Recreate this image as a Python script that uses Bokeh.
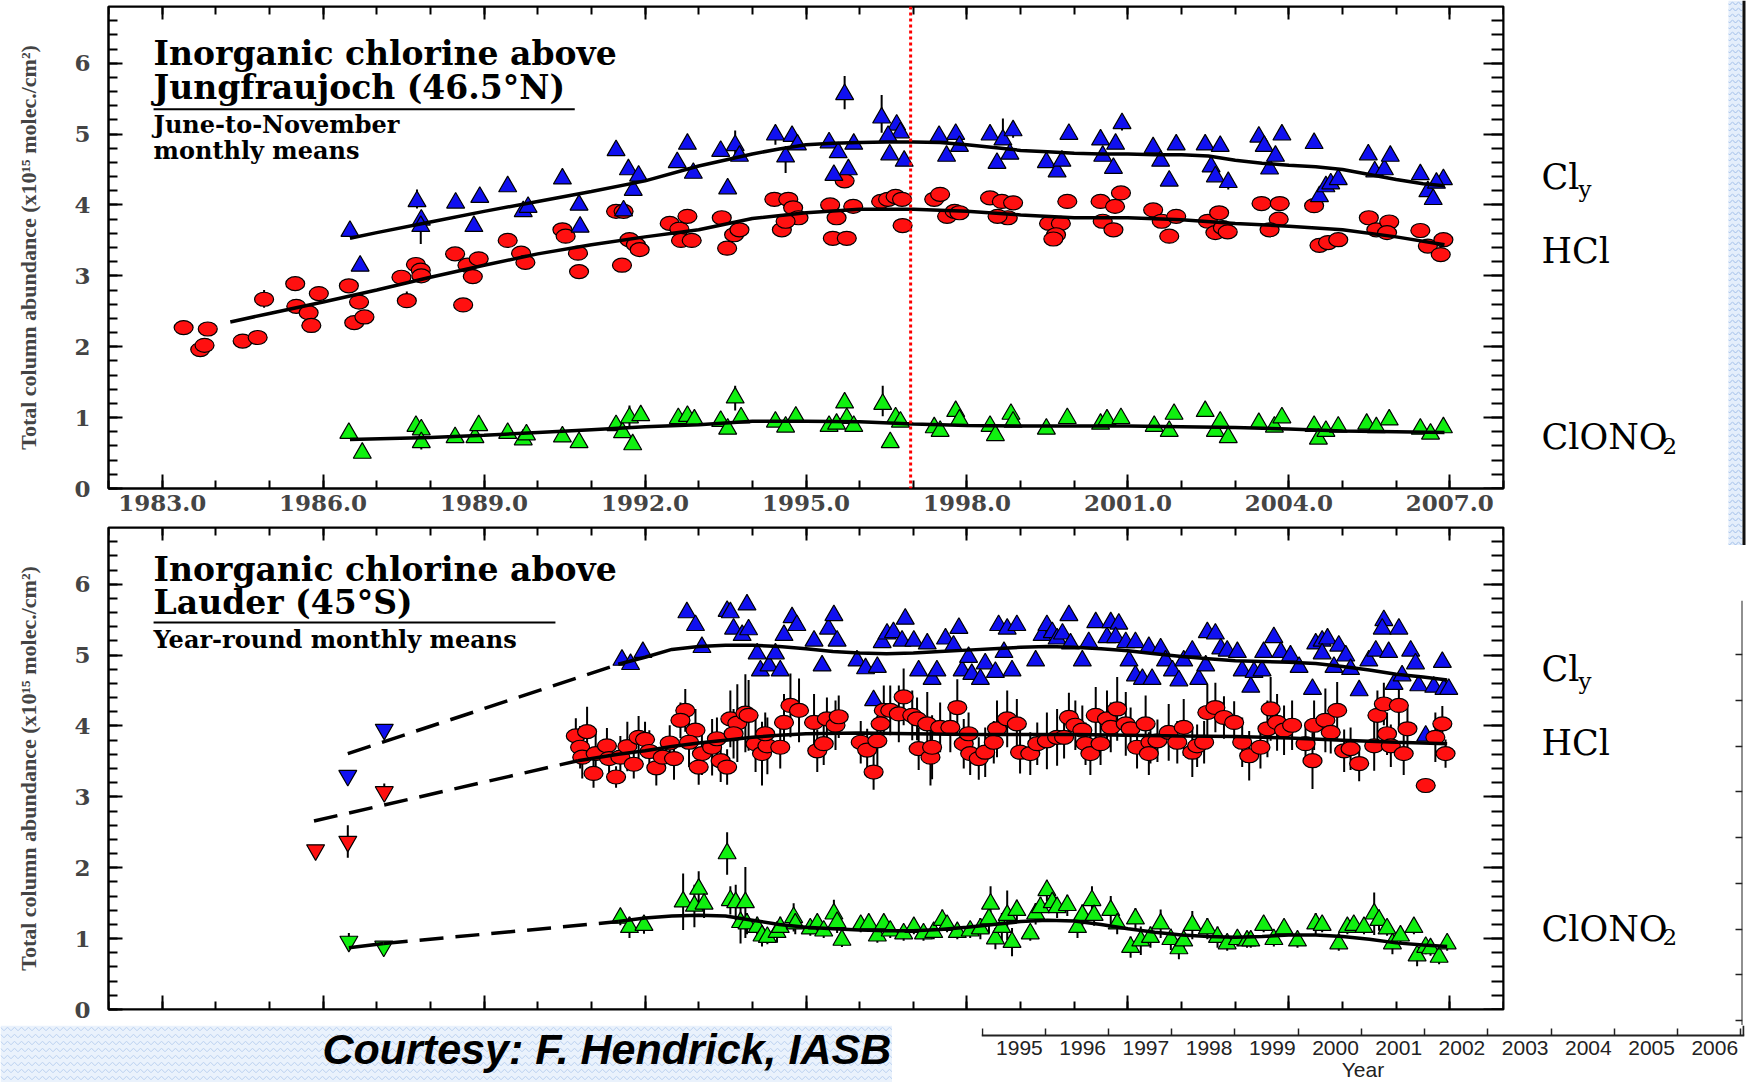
from bokeh.plotting import figure
from bokeh.models import (Range1d, LinearAxis, FixedTicker, PrintfTickFormatter,
                          CustomJSTickFormatter, Label, Span, BoxAnnotation)
from bokeh.layouts import row, column
from bokeh.embed import file_html
from bokeh.resources import INLINE

# ---------------------------------------------------------------- data
X_MAJOR = [1983, 1986, 1989, 1992, 1995, 1998, 2001, 2004, 2007]
X_MINOR = list(range(1982, 2009))
Y_MAJOR = [0, 1, 2, 3, 4, 5, 6]
Y_MINOR = [0.0, 0.2, 0.4, 0.6, 0.8, 1.0, 1.2, 1.4, 1.6, 1.8, 2.0, 2.2, 2.4, 2.6, 2.8, 3.0,
           3.2, 3.4, 3.6, 3.8, 4.0, 4.2, 4.4, 4.6, 4.8, 5.0, 5.2, 5.4, 5.6, 5.8, 6.0, 6.2,
           6.4, 6.6]
FRAG_YEARS = [1995, 1996, 1997, 1998, 1999, 2000, 2001, 2002, 2003, 2004, 2005, 2006]
FRAG_TICK_POS = [1994.41, 1995.41, 1996.41, 1997.41, 1998.41, 1999.41, 2000.41, 2001.41,
                 2002.41, 2003.41, 2004.41, 2005.41, 2006.41]

# --- Jungfraujoch (top panel), June-November monthly means (year, value)
TOP_HCL = [(1983.40, 2.27), (1983.71, 1.96), (1983.79, 2.02), (1983.85, 2.25), (1984.50, 2.08),
           (1984.78, 2.13), (1984.90, 2.67), (1985.48, 2.89), (1985.50, 2.57), (1985.73, 2.48),
           (1985.78, 2.30), (1985.92, 2.75), (1986.48, 2.86), (1986.67, 2.63), (1986.58, 2.34),
           (1986.77, 2.42), (1987.46, 2.98), (1987.56, 2.65), (1987.73, 3.16), (1987.82, 3.08),
           (1987.83, 3.00), (1988.46, 3.31), (1988.61, 2.59), (1988.69, 3.15), (1988.79, 2.99),
           (1988.90, 3.24), (1989.44, 3.50), (1989.69, 3.32), (1989.77, 3.19), (1990.46, 3.65),
           (1990.52, 3.56), (1990.75, 3.32), (1990.77, 3.06), (1991.46, 3.91), (1991.60, 3.91),
           (1991.57, 3.15), (1991.71, 3.51), (1991.83, 3.44), (1991.90, 3.37), (1992.46, 3.74),
           (1992.64, 3.66), (1992.79, 3.84), (1992.67, 3.50), (1992.87, 3.50), (1993.43, 3.82),
           (1993.53, 3.39), (1993.66, 3.58), (1993.76, 3.65), (1994.41, 4.08), (1994.67, 4.08),
           (1994.76, 3.96), (1994.55, 3.65), (1994.86, 3.82), (1994.62, 3.77), (1995.45, 4.00),
           (1995.57, 3.82), (1995.50, 3.53), (1995.76, 3.53), (1995.88, 3.98), (1995.72, 4.34),
           (1996.40, 4.05), (1996.53, 4.08), (1996.67, 4.12), (1996.79, 4.08), (1996.80, 3.71),
           (1997.39, 4.08), (1997.50, 4.15), (1997.63, 3.84), (1997.77, 3.91), (1997.86, 3.89),
           (1998.43, 4.10), (1998.65, 4.05), (1998.76, 3.82), (1998.86, 4.03), (1998.57, 3.84),
           (1999.53, 3.74), (1999.75, 3.74), (1999.66, 3.58), (1999.61, 3.52), (1999.87, 4.05),
           (2000.49, 4.05), (2000.53, 3.77), (2000.73, 3.65), (2000.76, 3.98), (2000.87, 4.17),
           (2001.47, 3.93), (2001.63, 3.77), (2001.77, 3.56), (2001.90, 3.84), (2002.49, 3.77),
           (2002.70, 3.89), (2002.63, 3.61), (2002.77, 3.68), (2002.86, 3.62), (2003.49, 4.02),
           (2003.83, 4.02), (2003.81, 3.80), (2003.64, 3.65), (2004.47, 3.99), (2004.57, 3.43),
           (2004.73, 3.47), (2004.92, 3.51), (2005.49, 3.82), (2005.63, 3.65), (2005.87, 3.76),
           (2005.83, 3.61), (2006.45, 3.64), (2006.59, 3.42), (2006.83, 3.30), (2006.88, 3.51)]

TOP_CLY = [(1986.50, 3.63), (1986.69, 3.14), (1987.75, 4.05), (1987.83, 3.79), (1987.82, 3.70),
           (1988.47, 4.03), (1988.81, 3.70), (1988.92, 4.11), (1989.44, 4.26), (1989.73, 3.91),
           (1989.82, 3.97), (1990.46, 4.37), (1990.77, 4.00), (1990.79, 3.69), (1991.46, 4.77),
           (1991.60, 3.92), (1991.69, 4.50), (1991.78, 4.21), (1991.88, 4.41), (1992.60, 4.60),
           (1992.79, 4.86), (1992.90, 4.45), (1993.41, 4.76), (1993.54, 4.23), (1993.68, 4.84),
           (1993.76, 4.69), (1994.43, 4.99), (1994.62, 4.68), (1994.74, 4.97), (1994.84, 4.85),
           (1995.43, 4.88), (1995.52, 4.42), (1995.60, 4.74), (1995.72, 5.56), (1995.79, 4.50),
           (1995.89, 4.86), (1996.41, 5.23), (1996.56, 4.71), (1996.69, 5.13), (1996.76, 5.02),
           (1996.83, 4.62), (1996.53, 4.97), (1997.48, 4.97), (1997.62, 4.69), (1997.79, 5.00),
           (1997.86, 4.83), (1998.43, 4.99), (1998.56, 4.59), (1998.67, 4.92), (1998.80, 4.72),
           (1998.86, 5.05), (1999.48, 4.60), (1999.68, 4.47), (1999.77, 4.62), (1999.90, 5.00),
           (2000.49, 4.92), (2000.53, 4.69), (2000.73, 4.52), (2000.77, 4.86), (2000.89, 5.15),
           (2001.47, 4.81), (2001.61, 4.62), (2001.77, 4.34), (2001.90, 4.85), (2002.44, 4.85),
           (2002.55, 4.54), (2002.63, 4.40), (2002.72, 4.83), (2002.87, 4.32), (2003.44, 4.96),
           (2003.54, 4.83), (2003.64, 4.51), (2003.75, 4.69), (2003.87, 4.99), (2004.47, 4.87),
           (2004.57, 4.12), (2004.69, 4.26), (2004.78, 4.30), (2004.92, 4.36), (2005.48, 4.71),
           (2005.60, 4.47), (2005.78, 4.50), (2005.89, 4.69), (2006.45, 4.43), (2006.59, 4.19),
           (2006.69, 4.08), (2006.88, 4.36), (2006.75, 4.31)]

TOP_CLONO2 = [(1986.48, 0.78), (1986.73, 0.50), (1987.73, 0.88), (1987.83, 0.83), (1987.83, 0.65),
              (1988.46, 0.72), (1988.83, 0.72), (1988.90, 0.89), (1989.44, 0.78), (1989.73, 0.69),
              (1989.79, 0.76), (1990.46, 0.73), (1990.77, 0.65), (1991.46, 0.89), (1991.58, 0.79),
              (1991.71, 1.00), (1991.77, 0.62), (1991.92, 1.03), (1992.62, 0.99), (1992.79, 1.02),
              (1992.92, 0.97), (1993.41, 0.95), (1993.54, 0.84), (1993.68, 1.28), (1993.79, 1.00),
              (1994.43, 0.94), (1994.62, 0.87), (1994.81, 1.01), (1995.43, 0.88), (1995.72, 1.21),
              (1995.76, 0.99), (1995.89, 0.88), (1995.57, 0.91), (1996.43, 1.19), (1996.57, 0.65),
              (1996.67, 1.00), (1996.76, 0.94), (1997.39, 0.86), (1997.50, 0.81), (1997.79, 1.09),
              (1997.86, 0.97), (1998.43, 0.88), (1998.53, 0.75), (1998.82, 1.05), (1998.86, 0.94),
              (1999.48, 0.84), (1999.87, 0.99), (2000.49, 0.91), (2000.61, 0.97), (2000.87, 0.99),
              (2001.49, 0.88), (2001.77, 0.81), (2001.86, 1.05), (2002.44, 1.09), (2002.63, 0.81),
              (2002.72, 0.94), (2002.87, 0.72), (2003.44, 0.92), (2003.73, 0.87), (2003.87, 1.00),
              (2004.47, 0.88), (2004.55, 0.70), (2004.69, 0.81), (2004.92, 0.87), (2005.45, 0.91),
              (2005.63, 0.86), (2005.87, 0.97), (2006.45, 0.84), (2006.64, 0.77), (2006.88, 0.86)]

# error bars (year, low, high) where visible in the top panel
TOP_ERR = [(1987.82, 3.45, 3.80), (1987.75, 3.95, 4.22), (1993.68, 4.72, 5.05), (1994.43, 4.85, 5.12),
           (1994.62, 4.45, 4.80), (1995.72, 5.35, 5.82), (1996.41, 5.02, 5.55), (1998.67, 4.85, 5.22),
           (1998.86, 4.95, 5.18), (2000.89, 5.05, 5.22), (2002.87, 4.22, 4.42), (1991.71, 0.88, 1.17),
           (1993.68, 1.10, 1.45), (1996.43, 1.02, 1.45), (1987.83, 0.55, 0.75), (1998.82, 0.95, 1.15),
           (1984.90, 2.55, 2.80), (1985.92, 2.65, 2.85), (1987.56, 2.55, 2.78), (1995.72, 4.25, 4.45)]

# fitted curves, top panel (year, value)
TOP_CLY_FIT = [(1986.5, 3.53), (1987, 3.61), (1988, 3.76), (1989, 3.91), (1990, 4.05), (1991, 4.19),
               (1992, 4.34), (1993, 4.55), (1994, 4.72), (1994.5, 4.79), (1995, 4.85), (1995.5, 4.87),
               (1996, 4.88), (1996.5, 4.89), (1997, 4.89), (1997.5, 4.88), (1998, 4.85), (1998.5, 4.81),
               (1999, 4.77), (1999.5, 4.75), (2000, 4.73), (2000.5, 4.72), (2001, 4.72), (2001.5, 4.71),
               (2002, 4.71), (2002.5, 4.69), (2003, 4.63), (2003.5, 4.59), (2004, 4.56), (2004.5, 4.54),
               (2005, 4.50), (2005.5, 4.43), (2006, 4.36), (2006.5, 4.30), (2006.9, 4.27)]
TOP_HCL_FIT = [(1984.27, 2.35), (1985, 2.47), (1986, 2.63), (1987, 2.80), (1988, 2.98), (1989, 3.15),
               (1990, 3.31), (1991, 3.44), (1992, 3.55), (1993, 3.65), (1994, 3.81), (1995, 3.89),
               (1996, 3.94), (1997, 3.94), (1998, 3.91), (1999, 3.86), (2000, 3.82), (2001, 3.82),
               (2002, 3.79), (2003, 3.74), (2004, 3.70), (2005, 3.65), (2006, 3.55), (2006.9, 3.44)]
TOP_CLONO2_FIT = [(1986.5, 0.69), (1988, 0.72), (1989, 0.75), (1990, 0.79), (1991, 0.83), (1992, 0.87),
                  (1993, 0.90), (1994, 0.95), (1995, 0.95), (1996, 0.94), (1997, 0.91), (1998, 0.89),
                  (1999, 0.88), (2000, 0.88), (2001, 0.88), (2002, 0.87), (2003, 0.86), (2004, 0.84),
                  (2005, 0.81), (2006, 0.80), (2006.9, 0.79)]
PINATUBO_LINE_YEAR = 1996.95

# --- Lauder (bottom panel), year-round monthly means
BOT_OLD_HCL = [(1985.86, 2.25, 0.05), (1986.46, 2.37, 0.23), (1987.14, 3.07, 0.12)]
BOT_OLD_CLY = [(1986.46, 3.30), (1987.14, 3.95)]
BOT_OLD_CLONO2 = [(1986.48, 0.96, 0.12), (1987.13, 0.89, 0.06)]

BOT_CLY = [(1991.57, 4.93), (1991.73, 4.87), (1991.96, 5.04), (1992.78, 5.60), (1992.94, 5.42),
           (1993.06, 5.11), (1993.53, 5.62), (1993.59, 5.60), (1993.90, 5.71), (1993.65, 5.37),
           (1993.81, 5.28), (1993.93, 5.36), (1994.09, 5.02), (1994.15, 4.78), (1994.31, 4.85),
           (1994.43, 5.02), (1994.52, 4.78), (1994.59, 5.28), (1994.74, 5.53), (1994.83, 5.42),
           (1995.15, 5.20), (1995.30, 4.85), (1995.42, 5.37), (1995.52, 5.56), (1995.58, 5.20),
           (1995.95, 4.92), (1996.11, 4.81), (1996.33, 4.83), (1996.42, 5.18), (1996.26, 4.36),
           (1996.51, 5.30), (1996.63, 5.32), (1996.85, 5.51), (1996.79, 5.20), (1997.01, 5.20),
           (1997.10, 4.78), (1997.26, 5.16), (1997.35, 4.66), (1997.44, 4.78), (1997.60, 5.23),
           (1997.75, 5.13), (1997.85, 5.38), (1997.91, 4.78), (1998.03, 4.97), (1998.09, 4.73),
           (1998.25, 4.66), (1998.34, 4.88), (1998.53, 4.76), (1998.59, 5.42), (1998.69, 5.04),
           (1998.75, 5.37), (1998.93, 5.42), (1998.84, 4.78), (1999.28, 4.92), (1999.40, 5.28),
           (1999.49, 5.42), (1999.59, 5.32), (1999.68, 5.23), (1999.78, 5.30), (1999.90, 5.56),
           (1999.93, 5.16), (2000.15, 4.92), (2000.27, 5.18), (2000.40, 5.46), (2000.61, 5.25),
           (2000.68, 5.46), (2000.83, 5.44), (2000.77, 5.25), (2000.96, 5.18), (2001.02, 4.92),
           (2001.14, 4.71), (2001.14, 5.18), (2001.27, 4.66), (2001.39, 5.11), (2001.45, 4.66),
           (2001.61, 5.09), (2001.70, 4.92), (2001.83, 4.78), (2001.95, 4.64), (2002.04, 4.92),
           (2002.20, 5.06), (2002.32, 4.66), (2002.45, 4.85), (2002.48, 5.32), (2002.63, 5.30),
           (2002.73, 5.09), (2002.85, 5.06), (2003.04, 5.04), (2003.13, 4.78), (2003.29, 4.55),
           (2003.35, 4.76), (2003.50, 4.78), (2003.53, 5.04), (2003.72, 5.25), (2003.85, 5.04),
           (2004.03, 4.99), (2004.19, 4.83), (2004.44, 4.52), (2004.50, 5.16), (2004.62, 5.20),
           (2004.72, 5.23), (2004.62, 5.02), (2004.84, 4.83), (2004.93, 5.13), (2005.06, 4.99),
           (2005.15, 4.80), (2005.31, 4.50), (2005.49, 4.92), (2005.62, 5.06), (2005.77, 5.49),
           (2005.74, 5.37), (2005.86, 5.04), (2006.05, 5.37), (2005.96, 4.59), (2006.11, 4.71),
           (2006.27, 5.06), (2006.36, 4.88), (2006.42, 4.57), (2006.55, 3.86), (2006.70, 4.55),
           (2006.86, 4.90), (2006.89, 4.52), (2006.98, 4.52)]

# (year, value, error)
BOT_HCL = [(1990.71, 3.86, 0.25), (1990.92, 3.92, 0.35), (1990.79, 3.70, 0.30), (1990.83, 3.56, 0.30),
           (1991.04, 3.33, 0.20), (1991.08, 3.61, 0.30), (1991.29, 3.72, 0.25), (1991.46, 3.28, 0.15),
           (1991.33, 3.54, 0.25), (1991.54, 3.56, 0.30), (1991.67, 3.71, 0.35), (1991.79, 3.46, 0.20),
           (1991.88, 3.84, 0.30), (1992.00, 3.81, 0.25), (1992.08, 3.64, 0.30), (1992.21, 3.41, 0.25),
           (1992.33, 3.56, 0.20), (1992.46, 3.76, 0.25), (1992.54, 3.54, 0.30), (1992.75, 4.22, 0.30),
           (1992.66, 4.08, 0.25), (1992.94, 3.94, 0.30), (1992.82, 3.77, 0.35), (1993.06, 3.61, 0.30),
           (1993.00, 3.42, 0.25), (1993.25, 3.70, 0.40), (1993.34, 3.82, 0.30), (1993.41, 3.51, 0.30),
           (1993.53, 3.42, 0.25), (1993.59, 4.10, 0.40), (1993.72, 4.04, 0.55), (1993.87, 4.18, 0.55),
           (1993.65, 3.89, 0.35), (1993.93, 4.15, 0.50), (1994.06, 3.75, 0.40), (1994.18, 3.61, 0.45),
           (1994.28, 3.72, 0.40), (1994.24, 3.89, 0.30), (1994.52, 3.70, 0.30), (1994.59, 4.05, 0.40),
           (1994.71, 4.29, 0.45), (1994.87, 4.22, 0.45), (1995.15, 4.05, 0.40), (1995.39, 4.10, 0.30),
           (1995.55, 4.01, 0.35), (1995.21, 3.65, 0.30), (1995.33, 3.75, 0.30), (1995.61, 4.13, 0.30),
           (1996.02, 3.77, 0.30), (1996.14, 3.66, 0.30), (1996.33, 3.79, 0.35), (1996.26, 3.35, 0.25),
           (1996.45, 4.22, 0.35), (1996.39, 4.03, 0.30), (1996.57, 4.22, 0.35), (1996.82, 4.41, 0.40),
           (1996.73, 4.17, 0.40), (1996.98, 4.15, 0.35), (1997.07, 4.10, 0.30), (1997.10, 3.68, 0.30),
           (1997.26, 4.03, 0.45), (1997.32, 3.56, 0.40), (1997.35, 3.70, 0.45), (1997.50, 3.98, 0.35),
           (1997.69, 3.98, 0.35), (1997.82, 4.26, 0.40), (1997.94, 3.75, 0.35), (1998.03, 3.89, 0.30),
           (1998.06, 3.61, 0.30), (1998.22, 3.54, 0.30), (1998.34, 3.63, 0.35), (1998.50, 3.77, 0.30),
           (1998.56, 3.96, 0.40), (1998.75, 4.10, 0.40), (1998.93, 4.03, 0.35), (1998.99, 3.63, 0.30),
           (1999.18, 3.61, 0.30), (1999.31, 3.75, 0.30), (1999.49, 3.79, 0.40), (1999.68, 3.84, 0.40),
           (1999.81, 3.84, 0.30), (1999.90, 4.12, 0.35), (2000.02, 4.01, 0.35), (2000.15, 3.94, 0.35),
           (2000.21, 3.75, 0.30), (2000.30, 3.61, 0.30), (2000.40, 4.15, 0.40), (2000.49, 3.75, 0.30),
           (2000.61, 4.10, 0.40), (2000.68, 3.98, 0.35), (2000.80, 4.24, 0.45), (2000.96, 4.03, 0.45),
           (2001.05, 3.96, 0.30), (2001.17, 3.70, 0.30), (2001.33, 4.03, 0.40), (2001.42, 3.77, 0.30),
           (2001.39, 3.61, 0.30), (2001.55, 3.79, 0.30), (2001.76, 3.91, 0.40), (2001.92, 3.77, 0.30),
           (2002.04, 3.98, 0.40), (2002.20, 3.63, 0.35), (2002.29, 3.72, 0.30), (2002.42, 3.77, 0.30),
           (2002.48, 4.19, 0.40), (2002.63, 4.26, 0.35), (2002.79, 4.12, 0.30), (2002.98, 4.05, 0.30),
           (2003.13, 3.77, 0.35), (2003.26, 3.58, 0.35), (2003.47, 3.70, 0.30), (2003.60, 3.96, 0.40),
           (2003.66, 4.24, 0.45), (2003.78, 4.05, 0.40), (2003.91, 3.94, 0.35), (2004.06, 4.01, 0.35),
           (2004.31, 3.75, 0.30), (2004.44, 3.51, 0.40), (2004.47, 4.01, 0.35), (2004.68, 4.08, 0.45),
           (2004.78, 3.91, 0.30), (2004.90, 4.22, 0.40), (2005.03, 3.65, 0.30), (2005.15, 3.68, 0.30),
           (2005.31, 3.47, 0.25), (2005.59, 3.72, 0.35), (2005.65, 4.15, 0.35), (2005.77, 4.31, 0.30),
           (2005.83, 3.89, 0.30), (2005.90, 3.72, 0.30), (2006.05, 4.29, 0.30), (2006.14, 3.61, 0.30),
           (2006.21, 3.96, 0.30), (2006.55, 3.16, 0.00), (2006.73, 3.84, 0.35), (2006.86, 4.03, 0.25),
           (2006.92, 3.61, 0.20)]

BOT_CLONO2 = [(1991.54, 1.29, 0.10), (1991.71, 1.16, 0.15), (1991.98, 1.19, 0.12), (1992.71, 1.52, 0.40),
              (1992.92, 1.46, 0.30), (1993.00, 1.70, 0.25), (1993.10, 1.49, 0.20), (1993.53, 2.20, 0.30),
              (1993.59, 1.54, 0.20), (1993.69, 1.51, 0.25), (1993.87, 1.51, 0.50), (1993.78, 1.23, 0.30),
              (1993.90, 1.21, 0.15), (1994.09, 1.16, 0.15), (1994.18, 1.04, 0.15), (1994.28, 1.02, 0.10),
              (1994.46, 1.09, 0.15), (1994.52, 1.16, 0.15), (1994.77, 1.30, 0.20), (1994.80, 1.21, 0.15),
              (1995.08, 1.14, 0.10), (1995.21, 1.21, 0.10), (1995.33, 1.11, 0.10), (1995.52, 1.35, 0.20),
              (1995.58, 1.23, 0.15), (1995.67, 0.98, 0.10), (1996.02, 1.19, 0.10), (1996.17, 1.21, 0.10),
              (1996.33, 1.04, 0.10), (1996.45, 1.21, 0.10), (1996.57, 1.11, 0.10), (1996.82, 1.07, 0.10),
              (1997.01, 1.16, 0.10), (1997.19, 1.07, 0.10), (1997.38, 1.09, 0.10), (1997.54, 1.26, 0.15),
              (1997.63, 1.19, 0.10), (1997.82, 1.09, 0.10), (1998.06, 1.11, 0.10), (1998.25, 1.14, 0.15),
              (1998.41, 1.28, 0.20), (1998.44, 1.49, 0.25), (1998.53, 1.00, 0.15), (1998.65, 1.16, 0.20),
              (1998.75, 1.33, 0.35), (1998.84, 0.95, 0.20), (1998.93, 1.40, 0.15), (1999.18, 1.07, 0.10),
              (1999.28, 1.35, 0.15), (1999.37, 1.44, 0.15), (1999.49, 1.68, 0.15), (1999.59, 1.51, 0.15),
              (1999.68, 1.44, 0.15), (1999.87, 1.47, 0.15), (2000.06, 1.16, 0.15), (2000.15, 1.33, 0.15),
              (2000.33, 1.54, 0.20), (2000.37, 1.33, 0.15), (2000.68, 1.40, 0.20), (2000.80, 1.21, 0.15),
              (2001.05, 0.88, 0.15), (2001.14, 1.28, 0.15), (2001.24, 0.97, 0.20), (2001.42, 1.02, 0.15),
              (2001.61, 1.21, 0.20), (2001.80, 0.99, 0.15), (2001.95, 0.86, 0.15), (2002.04, 0.97, 0.15),
              (2002.20, 1.19, 0.20), (2002.48, 1.14, 0.15), (2002.67, 1.02, 0.15), (2002.85, 0.93, 0.10),
              (2003.04, 0.99, 0.10), (2003.22, 0.97, 0.10), (2003.29, 0.97, 0.10), (2003.53, 1.19, 0.10),
              (2003.72, 0.99, 0.10), (2003.91, 1.14, 0.10), (2004.16, 0.97, 0.10), (2004.50, 1.21, 0.15),
              (2004.62, 1.19, 0.10), (2004.93, 0.93, 0.10), (2005.09, 1.16, 0.10), (2005.21, 1.19, 0.10),
              (2005.40, 1.16, 0.10), (2005.59, 1.35, 0.30), (2005.68, 1.26, 0.15), (2005.83, 1.14, 0.10),
              (2005.93, 0.93, 0.15), (2006.08, 1.04, 0.10), (2006.33, 1.16, 0.10), (2006.39, 0.76, 0.15),
              (2006.55, 0.88, 0.10), (2006.64, 0.86, 0.10), (2006.80, 0.74, 0.10), (2006.95, 0.93, 0.10)]

# fitted curves, bottom panel: dashed (extrapolated) parts and solid parts
BOT_CLY_DASH = [(1986.46, 3.61), (1991.5, 4.87)]
BOT_CLY_FIT = [(1991.5, 4.87), (1992, 4.97), (1992.5, 5.08), (1993, 5.12), (1993.5, 5.14), (1994, 5.14),
               (1994.5, 5.12), (1995, 5.09), (1995.5, 5.05), (1996, 5.03), (1996.5, 5.02), (1997, 5.03),
               (1997.5, 5.05), (1998, 5.07), (1998.5, 5.09), (1999, 5.11), (1999.5, 5.12), (2000, 5.11),
               (2000.5, 5.09), (2001, 5.06), (2001.5, 5.02), (2002, 4.98), (2002.5, 4.95), (2003, 4.92),
               (2003.5, 4.91), (2004, 4.90), (2004.5, 4.88), (2005, 4.84), (2005.5, 4.79), (2006, 4.73),
               (2006.5, 4.69), (2006.95, 4.65)]
BOT_HCL_DASH = [(1985.83, 2.66), (1990.75, 3.51)]
BOT_HCL_FIT = [(1990.75, 3.51), (1991.5, 3.60), (1992, 3.65), (1992.5, 3.71), (1993, 3.76), (1993.5, 3.80),
               (1994, 3.84), (1994.5, 3.87), (1995, 3.89), (1996, 3.90), (1997, 3.89), (1998, 3.88),
               (1999, 3.88), (2000, 3.88), (2001, 3.87), (2002, 3.86), (2003, 3.85), (2004, 3.83),
               (2005, 3.80), (2006, 3.77), (2006.95, 3.75)]
BOT_CLONO2_SEG = [(1986.48, 0.87), (1987.13, 0.93)]
BOT_CLONO2_DASH = [(1987.13, 0.93), (1991.5, 1.24)]
BOT_CLONO2_FIT = [(1991.5, 1.24), (1992, 1.29), (1992.5, 1.32), (1993, 1.33), (1993.5, 1.32), (1994, 1.26),
                  (1994.5, 1.20), (1995, 1.16), (1995.5, 1.14), (1996, 1.12), (1996.5, 1.11), (1997, 1.11),
                  (1997.5, 1.13), (1998, 1.16), (1998.5, 1.20), (1999, 1.24), (1999.5, 1.26), (2000, 1.25),
                  (2000.5, 1.20), (2001, 1.14), (2001.5, 1.09), (2002, 1.05), (2002.5, 1.03), (2003, 1.02),
                  (2003.5, 1.03), (2004, 1.05), (2004.5, 1.05), (2005, 1.03), (2005.5, 0.99), (2006, 0.94),
                  (2006.5, 0.91), (2006.95, 0.89)]

# ---------------------------------------------------------------- style
RED, BLUE, GREEN = "#ff1010", "#1010f0", "#10f010"
SERIF = "DejaVu Serif"
BLANK = CustomJSTickFormatter(code="return ''")


def col(pairs, i):
    return [p[i] for p in pairs]


def bare(width, height, xr, yr, **borders):
    f = figure(width=width, height=height, x_range=xr, y_range=yr, x_axis_location=None,
               y_axis_location=None, output_backend="svg", toolbar_location=None, **borders)
    f.frame_align = False
    f.grid.visible = False
    f.outline_line_color = None
    f.background_fill_color = "white"
    f.border_fill_color = "white"
    return f


def base_axis(ax, tin, minor_in):
    ax.axis_line_color = "black"
    ax.axis_line_width = 2
    ax.major_tick_in = tin
    ax.major_tick_out = 0
    ax.minor_tick_in = minor_in
    ax.minor_tick_out = 0
    ax.major_tick_line_color = "black"
    ax.major_tick_line_width = 2
    ax.minor_tick_line_color = "black"
    ax.minor_tick_line_width = 2


def panel(height, top, bottom, xlabels):
    p = bare(1505, height, Range1d(1982, 2008), Range1d(0, 6.8), min_border_left=108,
             min_border_right=2, min_border_top=top, min_border_bottom=bottom)
    p.outline_line_color = "black"
    p.outline_line_width = 2

    if xlabels:
        xb = LinearAxis(ticker=FixedTicker(ticks=X_MAJOR, minor_ticks=X_MINOR),
                        formatter=PrintfTickFormatter(format="%.1f"))
        xb.major_label_text_font = SERIF
        xb.major_label_text_font_style = "bold"
        xb.major_label_text_font_size = "23px"
        xb.major_label_standoff = 6
    else:
        xb = LinearAxis(ticker=FixedTicker(ticks=X_MAJOR, minor_ticks=X_MINOR),
                        formatter=BLANK, fixed_location=0)
    base_axis(xb, 14, 8)
    p.add_layout(xb, "below")

    xa = LinearAxis(ticker=FixedTicker(ticks=X_MAJOR, minor_ticks=X_MINOR), formatter=BLANK,
                    fixed_location=6.8)
    base_axis(xa, 13, 8)
    p.add_layout(xa, "above")

    yl = LinearAxis(ticker=FixedTicker(ticks=Y_MAJOR, minor_ticks=Y_MINOR),
                    formatter=PrintfTickFormatter(format="%d"),
                    axis_label="Total column abundance (x10\u00b9\u2075 molec./cm\u00b2)")
    base_axis(yl, 14, 9)
    yl.major_label_text_font = SERIF
    yl.major_label_text_font_style = "bold"
    yl.major_label_text_font_size = "23px"
    yl.major_label_standoff = 18
    yl.axis_label_text_font = "Liberation Serif"
    yl.axis_label_text_font_style = "bold"
    yl.axis_label_text_font_size = "22px"
    yl.axis_label_standoff = 30
    p.add_layout(yl, "left")

    yr = LinearAxis(ticker=FixedTicker(ticks=Y_MAJOR, minor_ticks=Y_MINOR), formatter=BLANK,
                    fixed_location=2008)
    base_axis(yr, 20, 12)
    p.add_layout(yr, "right")
    return p


def label(p, x, y, text, size, style="normal", font=SERIF, **kw):
    p.add_layout(Label(x=x, y=y, text=text, text_font=font, text_font_size=size,
                       text_font_style=style, text_color="black", text_baseline="alphabetic", **kw))


def species_fig(p, top, bottom, y_cly, y_hcl, y_clono2):
    f = bare(215, p.height, Range1d(0, 215), p.y_range, min_border_left=0, min_border_right=0,
             min_border_top=top, min_border_bottom=bottom)
    label(f, 36, y_cly, "Cl", "35px")
    label(f, 36, y_cly - 0.17, "y", "23px", x_offset=37)
    label(f, 36, y_hcl, "HCl", "35px")
    label(f, 36, y_clono2, "ClONO", "35px")
    label(f, 36, y_clono2 - 0.12, "2", "23px", x_offset=121)
    return f


def circles(p, xs, ys, color):
    p.ellipse(x=xs, y=ys, width=19, height=14, width_units="screen", height_units="screen",
              fill_color=color, line_color="black", line_width=1.2)


def triangles(p, xs, ys, color, marker="triangle", size=18):
    p.scatter(x=xs, y=ys, marker=marker, size=size, fill_color=color, line_color="black",
              line_width=1.2)


def errbars(p, xs, los, his, width=2):
    p.segment(x0=xs, y0=los, x1=xs, y1=his, line_color="black", line_width=width)


def fit(p, pairs, dash="solid"):
    p.line(col(pairs, 0), col(pairs, 1), line_color="black", line_width=3.5, line_dash=dash)


# ---------------------------------------------------------------- top panel
top = panel(523, 6, 35, True)
errbars(top, col(TOP_ERR, 0), col(TOP_ERR, 1), col(TOP_ERR, 2))
circles(top, col(TOP_HCL, 0), col(TOP_HCL, 1), RED)
triangles(top, col(TOP_CLY, 0), col(TOP_CLY, 1), BLUE)
triangles(top, col(TOP_CLONO2, 0), col(TOP_CLONO2, 1), GREEN)
fit(top, TOP_CLY_FIT)
fit(top, TOP_HCL_FIT)
fit(top, TOP_CLONO2_FIT)
top.add_layout(Span(location=PINATUBO_LINE_YEAR, dimension="height", line_color="#ff0000",
                    line_dash="3 3", line_width=3))
label(top, 1982.84, 6.13, "Inorganic chlorine above", "33px", "bold")
label(top, 1982.84, 5.66, "Jungfraujoch (46.5\u00b0N)", "33px", "bold")
top.segment(x0=[1982.84], y0=[5.35], x1=[1990.69], y1=[5.35], line_color="black", line_width=2)
label(top, 1982.84, 5.14, "June-to-November", "24px", "bold")
label(top, 1982.84, 4.77, "monthly means", "24px", "bold")
top_sp = species_fig(top, 6, 35, 4.40, 3.35, 0.72)

# ---------------------------------------------------------------- bottom panel
bot = panel(502, 4, 16, False)
errbars(bot, col(BOT_HCL, 0), [v - e for _, v, e in BOT_HCL], [v + e for _, v, e in BOT_HCL], 2)
errbars(bot, col(BOT_CLONO2, 0), [v - e for _, v, e in BOT_CLONO2],
        [v + e for _, v, e in BOT_CLONO2], 2)
errbars(bot, col(BOT_OLD_HCL, 0), [v - e for _, v, e in BOT_OLD_HCL],
        [v + e for _, v, e in BOT_OLD_HCL], 2)
errbars(bot, col(BOT_OLD_CLONO2, 0), [v - e for _, v, e in BOT_OLD_CLONO2],
        [v + e for _, v, e in BOT_OLD_CLONO2], 2)
triangles(bot, col(BOT_CLY, 0), col(BOT_CLY, 1), BLUE)
circles(bot, col(BOT_HCL, 0), col(BOT_HCL, 1), RED)
triangles(bot, col(BOT_CLONO2, 0), col(BOT_CLONO2, 1), GREEN)
triangles(bot, col(BOT_OLD_HCL, 0), col(BOT_OLD_HCL, 1), RED, "inverted_triangle")
triangles(bot, col(BOT_OLD_CLY, 0), col(BOT_OLD_CLY, 1), BLUE, "inverted_triangle")
triangles(bot, col(BOT_OLD_CLONO2, 0), col(BOT_OLD_CLONO2, 1), GREEN, "inverted_triangle")
fit(bot, BOT_CLY_DASH, "24 12")
fit(bot, BOT_CLY_FIT)
fit(bot, BOT_HCL_DASH, "24 12")
fit(bot, BOT_HCL_FIT)
fit(bot, BOT_CLONO2_SEG)
fit(bot, BOT_CLONO2_DASH, "24 12")
fit(bot, BOT_CLONO2_FIT)
label(bot, 1982.84, 6.21, "Inorganic chlorine above", "33px", "bold")
label(bot, 1982.84, 5.74, "Lauder (45\u00b0S)", "33px", "bold")
bot.segment(x0=[1982.84], y0=[5.46], x1=[1990.33], y1=[5.46], line_color="black", line_width=2)
label(bot, 1982.84, 5.22, "Year-round monthly means", "24px", "bold")
bot_sp = species_fig(bot, 4, 16, 4.80, 3.76, 1.14)

# ---------------------------------------------------------------- slide remnants
strip = bare(28, 545, Range1d(0, 28), Range1d(0, 545), min_border=0)
strip.add_layout(BoxAnnotation(left=8, right=22, fill_color="#e4eefb", fill_alpha=1,
                               hatch_pattern="horizontal_wave", hatch_color="#9fbde8",
                               hatch_scale=6, hatch_weight=1, line_color=None))
strip.add_layout(BoxAnnotation(left=22, right=25, fill_color="#111111", fill_alpha=1,
                               line_color=None))

fragv = bare(28, 480, Range1d(0, 22), Range1d(-0.11, 9.19), min_border_left=0, min_border_right=6,
             min_border_top=55, min_border_bottom=0)
fv_ax = LinearAxis(ticker=FixedTicker(ticks=[0, 1, 2, 3, 4, 5, 6, 7, 8]), formatter=BLANK,
                   fixed_location=22)
fv_ax.axis_line_color = "#222222"
fv_ax.axis_line_width = 2
fv_ax.major_tick_in = 7
fv_ax.major_tick_out = 0
fv_ax.major_tick_line_color = "#222222"
fv_ax.major_tick_line_width = 1.5
fv_ax.minor_tick_line_color = None
fragv.add_layout(fv_ax, "right")

banner = bare(892, 57, Range1d(0, 892), Range1d(0, 57), min_border=0)
banner.add_layout(BoxAnnotation(fill_color="#eaf2fc", fill_alpha=1, hatch_pattern="horizontal_wave",
                                hatch_color="#b9d0ef", hatch_scale=7, hatch_weight=1,
                                line_color=None))
banner.add_layout(Label(x=322, y=34, text="Courtesy: F. Hendrick, IASB", text_font="Liberation Sans",
                        text_font_style="bold italic", text_font_size="43px", text_color="black",
                        text_baseline="alphabetic"))

# remnant of another chart's time axis (bottom right of the slide)
fragx = bare(856, 57, Range1d(1994.40, 2006.47), Range1d(0, 57), min_border_left=89,
             min_border_right=4, min_border_top=0, min_border_bottom=0)
fx_ticks = LinearAxis(ticker=FixedTicker(ticks=FRAG_TICK_POS), formatter=BLANK, fixed_location=47)
fx_ticks.axis_line_color = "#222222"
fx_ticks.axis_line_width = 2
fx_ticks.major_tick_in = 7
fx_ticks.major_tick_out = 0
fx_ticks.major_tick_line_color = "#222222"
fx_ticks.major_tick_line_width = 1.5
fx_ticks.minor_tick_line_color = None
fragx.add_layout(fx_ticks, "below")
fx_lab = LinearAxis(ticker=FixedTicker(ticks=FRAG_YEARS), axis_label="Year", fixed_location=47)
fx_lab.axis_line_color = None
fx_lab.major_tick_line_color = None
fx_lab.minor_tick_line_color = None
fx_lab.major_tick_in = 0
fx_lab.major_tick_out = 0
fx_lab.major_label_standoff = 5
fx_lab.major_label_text_font = "Liberation Sans"
fx_lab.major_label_text_font_size = "21px"
fx_lab.major_label_text_color = "#222222"
fx_lab.axis_label_text_font = "Liberation Sans"
fx_lab.axis_label_text_font_style = "normal"
fx_lab.axis_label_text_font_size = "21px"
fx_lab.axis_label_text_color = "#222222"
fx_lab.axis_label_standoff = 0
fragx.add_layout(fx_lab, "below")
fragx.add_layout(BoxAnnotation(left=2006.44, right=2006.47, bottom=47, top=57,
                               fill_color="#222222", fill_alpha=1, line_color=None))

layout = column(row(column(row(top, top_sp), row(bot, bot_sp)), column(strip, fragv)),
                row(banner, fragx))

open("out.html", "w").write(file_html(layout, INLINE))
